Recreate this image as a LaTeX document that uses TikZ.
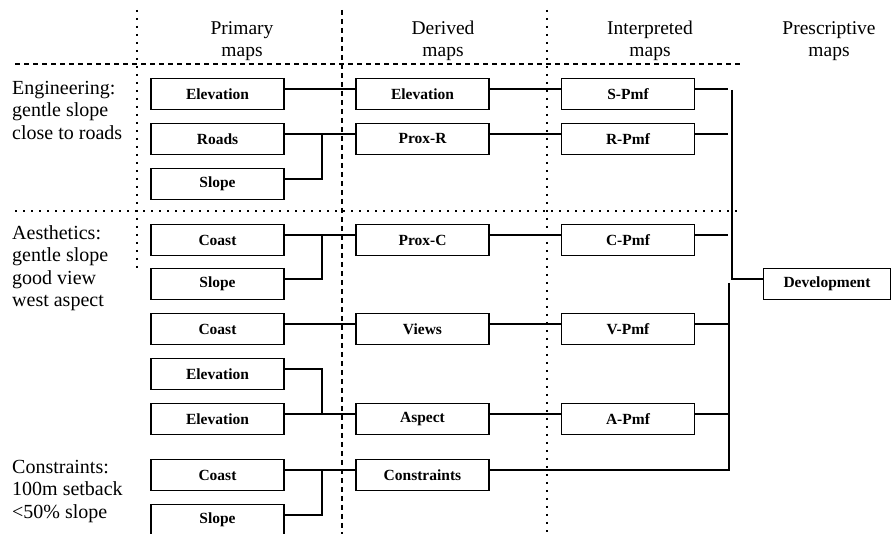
\documentclass[tikz,border=0pt]{standalone}
\usepackage{fontspec}
\setmainfont{Liberation Serif}
\usetikzlibrary{calc}
\begin{document}
\begin{tikzpicture}[x=1pt,y=-1pt,
  mapbox/.style={draw, line width=1.7pt, minimum width=133pt, minimum height=31pt, inner sep=0pt,
    font=\fontsize{15.5}{17}\selectfont\bfseries},
  devbox/.style={mapbox, minimum width=127pt},
  wire/.style={line width=1.4pt},
  head/.style={align=center, inner sep=0pt, font=\fontsize{19.5}{22.5}\selectfont},
  lab/.style={align=left, anchor=north west, inner sep=0pt, font=\fontsize{20}{22.5}\selectfont},
  sepdot/.style={line width=1.6pt, dash pattern=on 2pt off 6pt},
  sepdash/.style={line width=1.6pt, dash pattern=on 5pt off 4pt}]
\clip (0,0) rectangle (892,534);
\fill[white] (0,0) rectangle (892,534);
% separators
\draw[sepdot] (137,10) -- (137,272);
\draw[sepdash] (342,10) -- (342,534);
\draw[sepdot] (547,10) -- (547,534);
\draw[sepdash] (15,64) -- (742,64);
\draw[sepdot] (15,211) -- (742,211);
% headers
\node[head] (hp) at (242,41) {Primary\\maps};
\node[head] (hd) at (443,41) {Derived\\maps};
\node[head] (hi) at (650,41) {Interpreted\\maps};
\node[head] (hs) at (829,41) {Prescriptive\\maps};
% left labels
\node[lab] (leng) at (12,81) {Engineering:\\gentle slope\\close to roads};
\node[lab] (laes) at (12,225) {Aesthetics:\\gentle slope\\good view\\west aspect};
\node[lab] (lcon) at (12,460) {Constraints:\\100m setback\\<50\% slope};
% primary maps
\node[mapbox] (p1) at (217.5,94) {Elevation};
\node[mapbox] (p2) at (217.5,139) {Roads};
\node[mapbox] (p3) at (217.5,184) {Slope};
\node[mapbox] (p4) at (217.5,240) {Coast};
\node[mapbox] (p5) at (217.5,284) {Slope};
\node[mapbox] (p6) at (217.5,329) {Coast};
\node[mapbox] (p7) at (217.5,374) {Elevation};
\node[mapbox] (p8) at (217.5,419) {Elevation};
\node[mapbox] (p9) at (217.5,475) {Coast};
\node[mapbox] (p10) at (217.5,520) {Slope};
% derived maps
\node[mapbox] (d1) at (422.5,94) {Elevation};
\node[mapbox] (d2) at (422.5,139) {Prox-R};
\node[mapbox] (d3) at (422.5,240) {Prox-C};
\node[mapbox] (d4) at (422.5,329) {Views};
\node[mapbox] (d5) at (422.5,419) {Aspect};
\node[mapbox] (d6) at (422.5,475) {Constraints};
% interpreted maps
\node[mapbox] (i1) at (628,94) {S-Pmf};
\node[mapbox] (i2) at (628,139) {R-Pmf};
\node[mapbox] (i3) at (628,240) {C-Pmf};
\node[mapbox] (i4) at (628,329) {V-Pmf};
\node[mapbox] (i5) at (628,419) {A-Pmf};
% prescriptive
\node[devbox] (dev) at (827,284) {Development};
% helper x positions
\coordinate (mx) at (322,0);
\coordinate (ju) at (728,0);
\coordinate (bu) at (732,0);
\coordinate (bl) at (729,0);
% primary -> derived
\draw[wire] ($(p1.east)+(0,-5)$) -- ($(d1.west)+(0,-5)$);
\draw[wire] ($(p2.east)+(0,-5)$) -- ($(d2.west)+(0,-5)$);
\draw[wire] ($(p3.east)+(0,-5)$) -- ($(p3.east -| mx)+(0,-5)$) -- ($(p2.east -| mx)+(0,-5)$);
\draw[wire] ($(p4.east)+(0,-5)$) -- ($(d3.west)+(0,-5)$);
\draw[wire] ($(p5.east)+(0,-5)$) -- ($(p5.east -| mx)+(0,-5)$) -- ($(p4.east -| mx)+(0,-5)$);
\draw[wire] ($(p6.east)+(0,-5)$) -- ($(d4.west)+(0,-5)$);
\draw[wire] ($(p7.east)+(0,-5)$) -- ($(p7.east -| mx)+(0,-5)$) -- ($(p8.east -| mx)+(0,-5)$);
\draw[wire] ($(p8.east)+(0,-5)$) -- ($(d5.west)+(0,-5)$);
\draw[wire] ($(p9.east)+(0,-5)$) -- ($(d6.west)+(0,-5)$);
\draw[wire] ($(p10.east)+(0,-5)$) -- ($(p10.east -| mx)+(0,-5)$) -- ($(p9.east -| mx)+(0,-5)$);
% derived -> interpreted
\draw[wire] ($(d1.east)+(0,-5)$) -- ($(i1.west)+(0,-5)$);
\draw[wire] ($(d2.east)+(0,-5)$) -- ($(i2.west)+(0,-5)$);
\draw[wire] ($(d3.east)+(0,-5)$) -- ($(i3.west)+(0,-5)$);
\draw[wire] ($(d4.east)+(0,-5)$) -- ($(i4.west)+(0,-5)$);
\draw[wire] ($(d5.east)+(0,-5)$) -- ($(i5.west)+(0,-5)$);
% interpreted -> development
\draw[wire] ($(i1.east)+(0,-5)$) -- ($(i1.east -| ju)+(0,-5)$);
\draw[wire] ($(i2.east)+(0,-5)$) -- ($(i2.east -| ju)+(0,-5)$);
\draw[wire] ($(i3.east)+(0,-5)$) -- ($(i3.east -| ju)+(0,-5)$);
\draw[wire] ($(i1.east -| bu)+(0,-4)$) -- ($(dev.west -| bu)+(0,-5)$) -- ($(dev.west)+(0,-5)$);
\draw[wire] ($(dev.west -| bl)+(0,-1)$) -- ($(d6.east -| bl)+(0,-5)$) -- ($(d6.east)+(0,-5)$);
\draw[wire] ($(i4.east)+(0,-5)$) -- ($(i4.east -| bl)+(0,-5)$);
\draw[wire] ($(i5.east)+(0,-5)$) -- ($(i5.east -| bl)+(0,-5)$);
\end{tikzpicture}
\end{document}
